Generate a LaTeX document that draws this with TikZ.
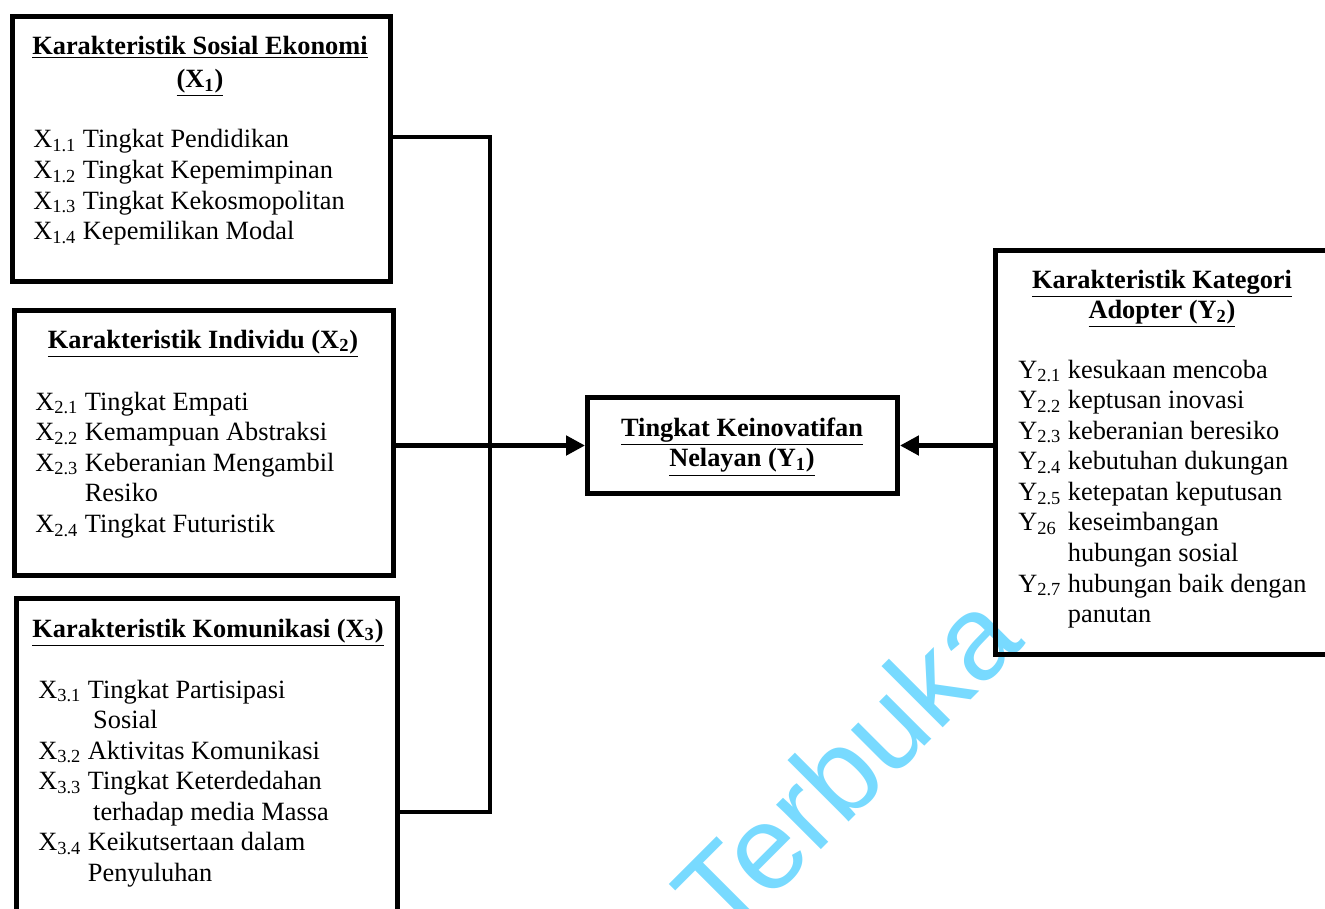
\documentclass[tikz,border=0pt]{standalone}
\usepackage{fontspec}
\setmainfont{Liberation Serif}
\newfontfamily\wmfont{Liberation Sans}
\usetikzlibrary{arrows.meta,positioning}
\definecolor{wmark}{RGB}{120,218,255}
\newcommand{\idx}[2]{#1\textsubscript{#2}}

\begin{document}
\begin{tikzpicture}[x=0.02cm,y=-0.02cm,
    every node/.append style={font=\fontsize{15}{17.4}\selectfont},
    varbox/.style={draw,line width=2.8pt,inner sep=0pt},
    vartitle/.style={anchor=base,inner sep=0pt,font=\fontsize{15}{17.4}\selectfont\bfseries},
    varitems/.style={anchor=base west,inner sep=0pt},
    link/.style={line width=2.8pt},
    arrowlink/.style={link,-{Triangle[length=0.38cm,width=0.38cm]}}]
  \useasboundingbox (0,0) rectangle (1325,909);
  \clip (0,0) rectangle (1325,909);

  \node[rotate=45,text=wmark,inner sep=0pt] (wm) at (846,764)
    {\wmfont\fontsize{68}{72}\selectfont Terbuka};

  \node[varbox,minimum width=7.56cm,minimum height=5.3cm] (x1) at (201.5,149) {};
  \node[varbox,minimum width=7.58cm,minimum height=5.3cm] (x2) at (204,443) {};
  \node[varbox,minimum width=7.62cm,minimum height=6.83cm] (x3) at (207,769.25) {};
  \node[varbox,minimum width=6.2cm,minimum height=1.92cm] (y1) at (742.5,445.5) {};
  \node[varbox,minimum width=7.29cm,minimum height=8.08cm] (y2) at (1177.75,452.5) {};

  \node[vartitle] (x1t) at (200,55) {\begin{tabular}[t]{@{}c@{}}
    \underline{Karakteristik Sosial Ekonomi}\\[1pt] \underline{(\idx{X}{1})}\end{tabular}};
  \node[varitems] (x1i) at (33,148) {\begin{tabular}[t]{@{}l@{\ }l@{}}
    \idx{X}{1.1} & Tingkat Pendidikan\\
    \idx{X}{1.2} & Tingkat Kepemimpinan\\
    \idx{X}{1.3} & Tingkat Kekosmopolitan\\
    \idx{X}{1.4} & Kepemilikan Modal\end{tabular}};

  \node[vartitle] (x2t) at (203,348) {\underline{Karakteristik Individu (\idx{X}{2})}};
  \node[varitems] (x2i) at (35,410) {\begin{tabular}[t]{@{}l@{\ }l@{}}
    \idx{X}{2.1} & Tingkat Empati\\
    \idx{X}{2.2} & Kemampuan Abstraksi\\
    \idx{X}{2.3} & Keberanian Mengambil\\
                 & Resiko\\
    \idx{X}{2.4} & Tingkat Futuristik\end{tabular}};

  \node[vartitle] (x3t) at (208,637) {\underline{Karakteristik Komunikasi (\idx{X}{3})}};
  \node[varitems] (x3i) at (38,698) {\begin{tabular}[t]{@{}l@{\ }l@{}}
    \idx{X}{3.1} & Tingkat Partisipasi\\
                 & \hspace{3pt}Sosial\\
    \idx{X}{3.2} & Aktivitas Komunikasi\\
    \idx{X}{3.3} & Tingkat Keterdedahan\\
                 & \hspace{3pt}terhadap media Massa\\
    \idx{X}{3.4} & Keikutsertaan dalam\\
                 & Penyuluhan\end{tabular}};

  \node[vartitle] (y1t) at (742,436) {\begin{tabular}[t]{@{}c@{}}
    \underline{Tingkat Keinovatifan}\\ \underline{Nelayan (\idx{Y}{1})}\end{tabular}};

  \node[vartitle] (y2t) at (1162,288) {\begin{tabular}[t]{@{}c@{}}
    \underline{Karakteristik Kategori}\\ \underline{Adopter (\idx{Y}{2})}\end{tabular}};
  \node[varitems] (y2i) at (1018,378) {\begin{tabular}[t]{@{}l@{\ }l@{}}
    \idx{Y}{2.1} & kesukaan mencoba\\
    \idx{Y}{2.2} & keptusan inovasi\\
    \idx{Y}{2.3} & keberanian beresiko\\
    \idx{Y}{2.4} & kebutuhan dukungan\\
    \idx{Y}{2.5} & ketepatan keputusan\\
    \idx{Y}{26}  & keseimbangan\\
                 & hubungan sosial\\
    \idx{Y}{2.7} & hubungan baik dengan\\
                 & panutan\end{tabular}};

  \coordinate (j1) at (490,137);
  \coordinate (j3) at (490,812);
  \draw[link] (x1.east |- j1) -- (j1) -- (j3) -- (x3.east |- j3);
  \draw[arrowlink] (x2.east |- y1.west) -- (y1.west);
  \draw[arrowlink] (y2.west |- y1.east) -- (y1.east);
\end{tikzpicture}
\end{document}
